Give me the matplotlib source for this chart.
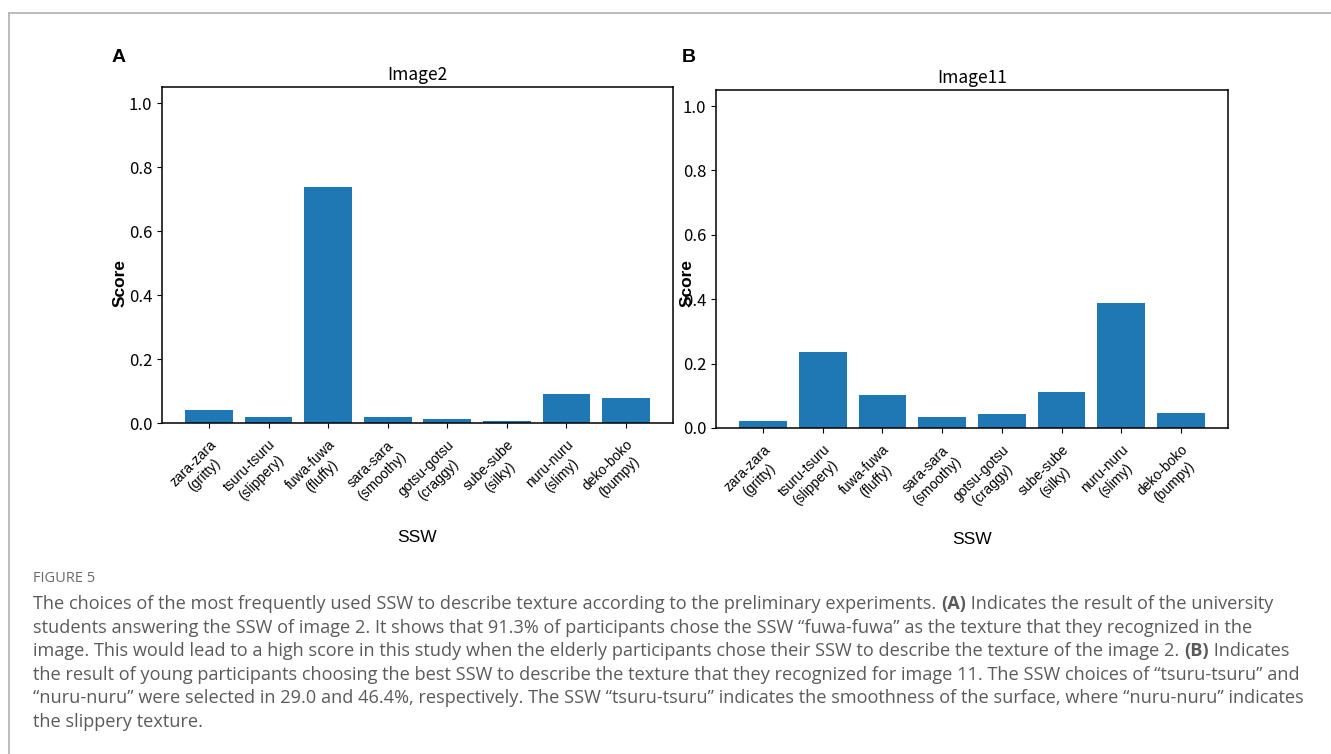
import numpy as np
import matplotlib
matplotlib.use('Agg')
import matplotlib.pyplot as plt
from matplotlib.lines import Line2D

# data
words = ['zara-zara\n(gritty)', 'tsuru-tsuru\n(slippery)', 'fuwa-fuwa\n(fluffy)',
         'sara-sara\n(smoothy)', 'gotsu-gotsu\n(craggy)', 'sube-sube\n(silky)',
         'nuru-nuru\n(slimy)', 'deko-boko\n(bumpy)']
score_img2 = [0.042, 0.019, 0.736, 0.019, 0.011, 0.006, 0.090, 0.077]
score_img11 = [0.023, 0.236, 0.101, 0.035, 0.042, 0.112, 0.389, 0.047]
yticks = [0.0, 0.2, 0.4, 0.6, 0.8, 1.0]

caption = [
    [('The choices of the most frequently used SSW to describe texture according to the preliminary experiments. ', 'normal'),
     ('(A)', 'bold'), (' Indicates the result of the university', 'normal')],
    [('students answering the SSW of image 2. It shows that 91.3% of participants chose the SSW \u201cfuwa-fuwa\u201d as the texture that they recognized in the', 'normal')],
    [('image. This would lead to a high score in this study when the elderly participants chose their SSW to describe the texture of the image 2. ', 'normal'),
     ('(B)', 'bold'), (' Indicates', 'normal')],
    [('the result of young participants choosing the best SSW to describe the texture that they recognized for image 11. The SSW choices of \u201ctsuru-tsuru\u201d and', 'normal')],
    [('\u201cnuru-nuru\u201d were selected in 29.0 and 46.4%, respectively. The SSW \u201ctsuru-tsuru\u201d indicates the smoothness of the surface, where \u201cnuru-nuru\u201d indicates', 'normal')],
    [('the slippery texture.', 'normal')],
]

W, H = 1331, 754
fig = plt.figure(figsize=(W / 100, H / 100), dpi=100)

# frame lines of the page
fig.add_artist(Line2D([9 / W, 1], [1 - 13 / H, 1 - 13 / H], color='#b0b0b0', lw=1.2))
fig.add_artist(Line2D([9 / W, 9 / W], [0, 1 - 13 / H], color='#b0b0b0', lw=1.2))

cjk = ['Noto Sans CJK JP', 'DejaVu Sans']
sans = ['Liberation Sans', 'DejaVu Sans']
capfont = ['Open Sans', 'DejaVu Sans']


def panel(rect, values, title, letter, lpos, ylab_xy, xpad):
    ax = fig.add_axes(rect)
    x = np.arange(len(words))
    ax.bar(x, values, width=0.8, color='#1f77b4')
    ax.set_ylim(0, 1.05)
    ax.set_yticks(yticks)
    ax.set_yticklabels(['%.1f' % v for v in yticks], family=cjk, fontsize=12)
    ax.set_xticks(x)
    ax.set_xticklabels(words, rotation=45, ha='right', va='top', rotation_mode='anchor',
                       multialignment='center', family=sans, fontsize=10)
    ax.tick_params(axis='x', pad=7)
    ax.set_title(title, family=cjk, fontsize=12.5, pad=5)
    ax.set_xlabel('SSW', family=sans, fontsize=12.5, labelpad=xpad)
    ax.set_ylabel('Score', family=sans, fontsize=12.5, fontweight='bold')
    ax.yaxis.set_label_coords(*ylab_xy)
    for s in ax.spines.values():
        s.set_linewidth(1.1)
    fig.text(lpos[0] / W, 1 - lpos[1] / H, letter, fontsize=14, fontweight='bold',
             family=sans, va='center', ha='left')
    return ax


axA = panel([162 / W, 1 - 423 / H, 511 / W, 336 / H], score_img2, 'Image2', 'A',
            (112, 57), (-0.068, 0.417), 14)
axB = panel([716 / W, 1 - 428 / H, 512 / W, 338 / H], score_img11, 'Image11', 'B',
            (682, 57), (-0.041, 0.429), 12)

# caption
fig.text(33 / W, 1 - 578 / H, 'FIGURE 5', fontsize=10.5, color='#6a6a6a',
         family=capfont, va='center')
y0 = 604
fs = 13.05
for i, segs in enumerate(caption):
    last = None
    for s, wt in segs:
        if last is None:
            last = fig.text(33 / W, 1 - (y0 + i * 23.6) / H, s, fontsize=fs,
                            color='#5a5a5a', fontweight=wt, family=capfont,
                            va='center')
        else:
            last = axA.annotate(s, xy=(1, 0), xycoords=last, va='bottom', ha='left',
                                fontsize=fs, color='#5a5a5a', fontweight=wt,
                                family=capfont, annotation_clip=False)

fig.savefig('out.png', dpi=100)
